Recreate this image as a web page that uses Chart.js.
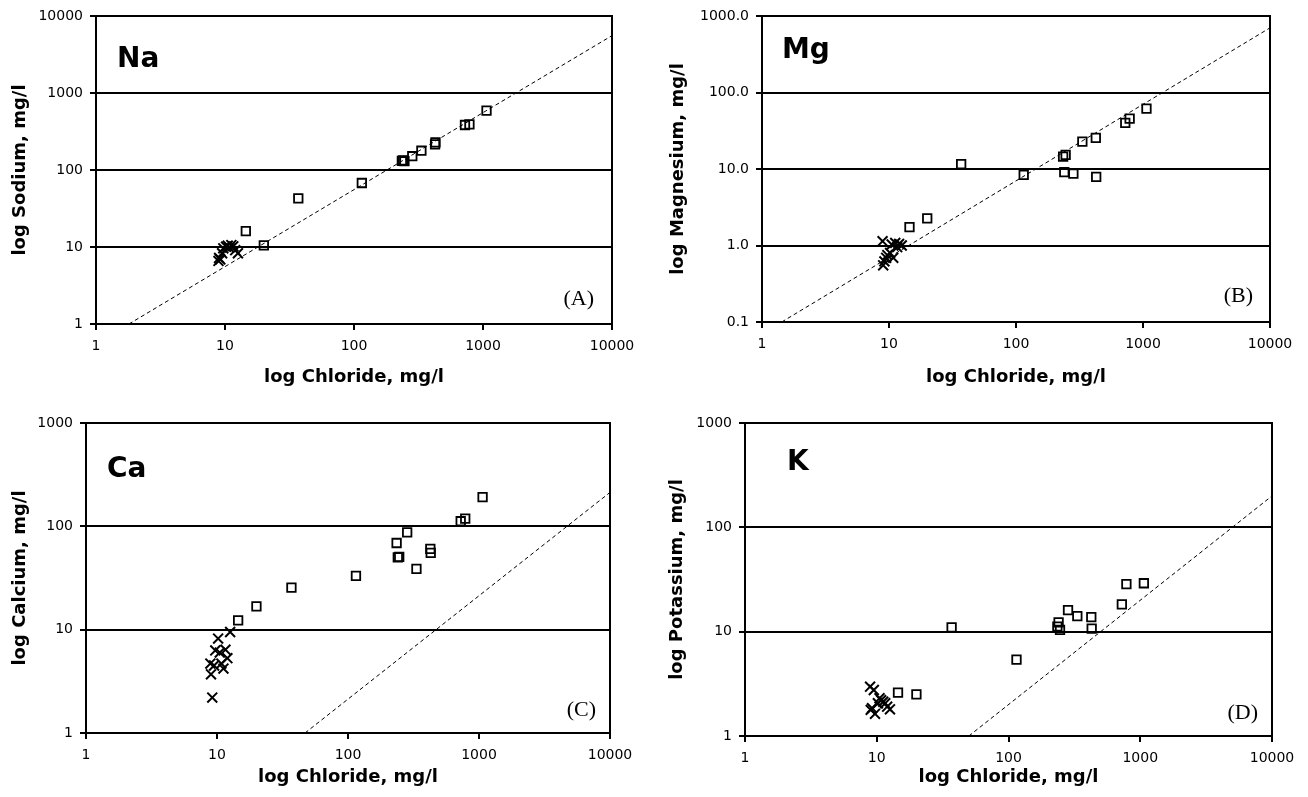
<!DOCTYPE html>
<html><head><meta charset="utf-8">
<script src="https://cdn.jsdelivr.net/npm/chart.js@4/dist/chart.umd.min.js"></script>
<style>
html,body{margin:0;padding:0;background:#fff;}
body{width:1308px;height:797px;position:relative;overflow:hidden;}
canvas{position:absolute;}
</style></head><body>
<canvas id="cA"></canvas><canvas id="cB"></canvas><canvas id="cC"></canvas><canvas id="cD"></canvas>
<script>
// ---- data (mg/l) ----
// open squares: samples
const chlorideSq  = [14.5, 20, 37, 115, 235, 240, 246, 283, 333, 425, 428, 725, 785, 1065];
const sodiumSq    = [16.1, 10.5, 42.9, 67.8, 131, 133, 130, 151, 178, 215, 228, 384, 392, 589];
const magnesiumSq = [1.74, 2.26, 11.6, 8.4, 14.5, 9.1, 15.3, 8.7, 22.8, 25.5, 7.9, 40.1, 45.6, 61.7];
const calciumSq   = [12.3, 16.8, 25.5, 33.1, 69, 50, 50.6, 87.5, 38.7, 60.4, 55.3, 112, 118.6, 192];
const potassiumSq = [2.6, 2.51, 11.0, 5.4, 11.2, 12.3, 10.4, 16.1, 14.1, 13.8, 10.7, 18.3, 28.5, 29.1];
// crosses: samples
const chlorideX  = [8.9, 9.0, 9.2, 9.5, 9.7, 10.2, 10.5, 10.8, 11.2, 11.6, 12.0, 12.6];
const sodiumX    = [6.6, 7.2, 6.9, 8.3, 9.6, 10.1, 10.4, 9.8, 10.6, 10.2, 9.1, 8.3];
const magnesiumX = [1.14, 0.55, 0.62, 0.69, 0.75, 0.8, 1.03, 0.69, 1.08, 0.95, 1.05, 1.0];
const calciumX   = [4.7, 3.7, 2.2, 4.5, 6.3, 8.2, 6.0, 4.7, 4.2, 6.4, 5.3, 9.5];
const potassiumX = [2.97, 1.78, 1.85, 2.76, 1.63, 2.06, 2.3, 2.2, 2.13, 2.06, 1.91, 1.8];
// dashed seawater dilution lines (two end points each)
const naLineX = [1.8, 10000],  naLineY = [1, 5560];
const mgLineX = [1.43, 10000], mgLineY = [0.1, 700];
const caLineX = [47, 10000],   caLineY = [1, 213];
const kLineX  = [50, 10000],   kLineY  = [1, 200];
// axis ticks
const xTickValues = [1, 10, 100, 1000, 10000];
const xTickLabels = ['1', '10', '100', '1000', '10000'];
const yTickValuesA = [1, 10, 100, 1000, 10000];
const yTickLabelsA = ['1', '10', '100', '1000', '10000'];
const yTickValuesB = [0.1, 1, 10, 100, 1000];
const yTickLabelsB = ['0.1', '1.0', '10.0', '100.0', '1000.0'];
const yTickValuesCD = [1, 10, 100, 1000];
const yTickLabelsCD = ['1', '10', '100', '1000'];

const pts = (xs, ys) => xs.map((x, i) => ({x, y: ys[i]}));

const frameAndText = {
  id: 'frameAndText',
  beforeDatasetsDraw(chart, args, o) {
    const {ctx, chartArea: a} = chart;
    ctx.save();
    ctx.strokeStyle = '#000'; ctx.lineWidth = 2;
    ctx.strokeRect(a.left, a.top, a.right - a.left, a.bottom - a.top);
    ctx.restore();
  },
  afterDraw(chart, args, o) {
    const {ctx, chartArea: a} = chart;
    ctx.save();
    ctx.fillStyle = '#000';
    ctx.textBaseline = 'alphabetic';
    ctx.textAlign = 'left';
    ctx.font = 'bold 28px "DejaVu Sans"';
    ctx.fillText(o.name, a.left + o.nameDx, a.top + o.nameDy);
    ctx.textAlign = 'right';
    ctx.font = '22px "Liberation Serif"';
    ctx.fillText(o.tag, a.right + o.tagDx, a.bottom + o.tagDy);
    ctx.restore();
  }
};

function makePanel(cfg) {
  const cv = document.getElementById(cfg.id);
  const b = cfg.box, ar = cfg.area;
  cv.width = b.w; cv.height = b.h;
  cv.style.left = b.x + 'px'; cv.style.top = b.y + 'px';
  cv.style.width = b.w + 'px'; cv.style.height = b.h + 'px';
  const padL = cfg.padL;
  const tickFont = {family: 'DejaVu Sans', size: 14};
  const titleFont = {family: 'DejaVu Sans', size: 18, weight: 'bold'};
  new Chart(cv, {
    type: 'scatter',
    data: {datasets: [
      {type: 'line', data: pts(cfg.lineX, cfg.lineY), borderColor: '#000', borderWidth: 1,
       borderDash: [4, 3], pointRadius: 0, fill: false, tension: 0},
      {data: pts(chlorideSq, cfg.sq), pointStyle: 'rect', pointRadius: 6, borderWidth: 1.8,
       borderColor: '#000', backgroundColor: 'rgba(0,0,0,0)'},
      {data: pts(chlorideX, cfg.cr), pointStyle: 'crossRot', pointRadius: 7, borderWidth: 2,
       borderColor: '#000', backgroundColor: '#000'}
    ]},
    options: {
      responsive: false, animation: false, devicePixelRatio: 1,
      layout: {padding: {left: padL, top: ar.t - b.y, right: b.x + b.w - ar.r, bottom: 0}},
      plugins: {legend: {display: false}, tooltip: {enabled: false},
        frameAndText: {name: cfg.name, nameDx: cfg.nameDx, nameDy: cfg.nameDy,
                       tag: cfg.tag, tagDx: cfg.tagDx, tagDy: cfg.tagDy}},
      scales: {
        x: {type: 'logarithmic', position: 'bottom', min: 1, max: 10000,
          afterBuildTicks: ax => { ax.ticks = xTickValues.map(v => ({value: v})); },
          afterFit: s => { s.height = b.y + b.h - ar.b; },
          ticks: {autoSkip: false, maxRotation: 0, color: '#000', font: tickFont, padding: 8,
                  callback: (v, i) => xTickLabels[i]},
          grid: {drawOnChartArea: false, drawTicks: true, tickLength: 6, color: '#000', lineWidth: 2},
          border: {display: true, color: '#000', width: 2},
          title: {display: true, text: 'log Chloride, mg/l', color: '#000', font: titleFont,
                  padding: {top: 0, bottom: cfg.xTitlePad}}
        },
        y: {type: 'logarithmic', position: 'left', min: cfg.yVals[0], max: cfg.yVals[cfg.yVals.length - 1],
          afterBuildTicks: ax => { ax.ticks = cfg.yVals.map(v => ({value: v})); },
          afterFit: s => { s.width = ar.l - b.x - padL; },
          ticks: {autoSkip: false, color: '#000', font: tickFont, padding: 7,
                  callback: (v, i) => cfg.yLabels[i]},
          grid: {drawOnChartArea: true, drawTicks: true, tickLength: 6, color: '#000', lineWidth: 2},
          border: {display: true, color: '#000', width: 2},
          title: {display: true, text: cfg.yTitle, color: '#000', font: titleFont,
                  padding: {top: 4, bottom: 0}}
        }
      }
    },
    plugins: [frameAndText]
  });
}

makePanel({id: 'cA', box: {x: 0, y: 0, w: 654, h: 400}, area: {l: 96, t: 16, r: 612, b: 324}, padL: 6,
  yVals: yTickValuesA, yLabels: yTickLabelsA, yTitle: 'log Sodium, mg/l', xTitlePad: 12,
  sq: sodiumSq, cr: sodiumX, lineX: naLineX, lineY: naLineY,
  name: 'Na', nameDx: 21, nameDy: 51, tag: '(A)', tagDx: -18, tagDy: -19});
makePanel({id: 'cB', box: {x: 654, y: 0, w: 654, h: 400}, area: {l: 762, t: 16, r: 1270, b: 322}, padL: 10,
  yVals: yTickValuesB, yLabels: yTickLabelsB, yTitle: 'log Magnesium, mg/l', xTitlePad: 12,
  sq: magnesiumSq, cr: magnesiumX, lineX: mgLineX, lineY: mgLineY,
  name: 'Mg', nameDx: 20, nameDy: 42, tag: '(B)', tagDx: -17, tagDy: -20});
makePanel({id: 'cC', box: {x: 0, y: 400, w: 654, h: 397}, area: {l: 86, t: 423, r: 610, b: 733}, padL: 6,
  yVals: yTickValuesCD, yLabels: yTickLabelsCD, yTitle: 'log Calcium, mg/l', xTitlePad: 9,
  sq: calciumSq, cr: calciumX, lineX: caLineX, lineY: caLineY,
  name: 'Ca', nameDx: 21, nameDy: 54, tag: '(C)', tagDx: -14, tagDy: -17});
makePanel({id: 'cD', box: {x: 654, y: 400, w: 654, h: 397}, area: {l: 745, t: 423, r: 1272, b: 736}, padL: 9,
  yVals: yTickValuesCD, yLabels: yTickLabelsCD, yTitle: 'log Potassium, mg/l', xTitlePad: 9,
  sq: potassiumSq, cr: potassiumX, lineX: kLineX, lineY: kLineY,
  name: 'K', nameDx: 42, nameDy: 47, tag: '(D)', tagDx: -14, tagDy: -17});
</script>
</body></html>
